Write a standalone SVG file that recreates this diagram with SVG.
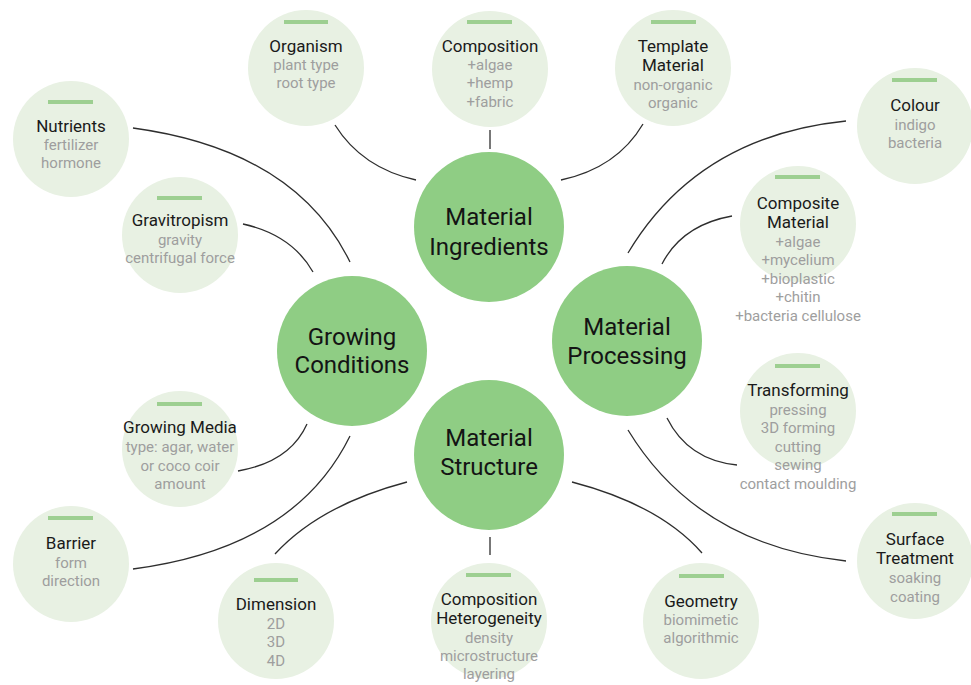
<svg xmlns="http://www.w3.org/2000/svg" width="971" height="685" viewBox="0 0 971 685">
<style>
.main{fill:#8fcd84}
.sub{fill:#e8f1e3}
.bar{stroke:#9dcf91;stroke-width:4}
.mt{font-family:Roboto,"Liberation Sans",sans-serif;font-size:24px;fill:#141414;text-anchor:middle}
.t{font-family:Roboto,"Liberation Sans",sans-serif;font-size:17px;fill:#1a1a1a;text-anchor:middle}
.s{font-family:Roboto,"Liberation Sans",sans-serif;font-size:15px;fill:#9e9e9e;text-anchor:middle}
.c{fill:none;stroke:#2e2e2e;stroke-width:1.3}
</style>
<rect width="971" height="685" fill="#ffffff"/>
<g id="connectors">
<path class="c" d="M335,125 Q362,168 416,180"/>
<path class="c" d="M490,130 L490,149"/>
<path class="c" d="M643,124 Q617,168 561,180"/>
<path class="c" d="M133,128 Q295,150 350,262"/>
<path class="c" d="M243,224 Q292,235 313,272"/>
<path class="c" d="M238,471 Q290,462 307,424"/>
<path class="c" d="M133,569 Q295,548 350,436"/>
<path class="c" d="M275,554 Q320,505 407,482"/>
<path class="c" d="M490,537 L490,555"/>
<path class="c" d="M572,482 Q660,505 702,553"/>
<path class="c" d="M846,121 Q698,136 628,253"/>
<path class="c" d="M732,216 Q682,225 662,264"/>
<path class="c" d="M667,418 Q688,460 737,465"/>
<path class="c" d="M628,430 Q698,545 846,561"/>
</g>
<g id="material-ingredients"><circle class="main" cx="489" cy="227" r="75"/><text class="mt" x="489" y="225">Material</text><text class="mt" x="489" y="255">Ingredients</text></g>
<g id="growing-conditions"><circle class="main" cx="352" cy="351" r="75"/><text class="mt" x="352" y="345">Growing</text><text class="mt" x="352" y="373">Conditions</text></g>
<g id="material-processing"><circle class="main" cx="627" cy="341" r="75"/><text class="mt" x="627" y="335">Material</text><text class="mt" x="627" y="364">Processing</text></g>
<g id="material-structure"><circle class="main" cx="489" cy="455" r="75"/><text class="mt" x="489" y="446">Material</text><text class="mt" x="489" y="475">Structure</text></g>

<g id="organism"><circle class="sub" cx="306" cy="68" r="58"/><line class="bar" x1="284" y1="22" x2="328" y2="22"/><text class="t" x="306" y="52">Organism</text><text class="s" x="306" y="70">plant type</text><text class="s" x="306" y="88">root type</text></g>
<g id="composition"><circle class="sub" cx="490" cy="69" r="58"/><line class="bar" x1="467" y1="22" x2="512" y2="22"/><text class="t" x="490" y="52">Composition</text><text class="s" x="490" y="70">+algae</text><text class="s" x="490" y="88">+hemp</text><text class="s" x="490" y="107">+fabric</text></g>
<g id="template-material"><circle class="sub" cx="673" cy="68" r="58"/><line class="bar" x1="651" y1="22" x2="696" y2="22"/><text class="t" x="673" y="52">Template</text><text class="t" x="673" y="71">Material</text><text class="s" x="673" y="90">non-organic</text><text class="s" x="673" y="108">organic</text></g>
<g id="nutrients"><circle class="sub" cx="71" cy="139" r="58"/><line class="bar" x1="48" y1="102" x2="93" y2="102"/><text class="t" x="71" y="132">Nutrients</text><text class="s" x="71" y="150">fertilizer</text><text class="s" x="71" y="168">hormone</text></g>
<g id="gravitropism"><circle class="sub" cx="180" cy="235" r="58"/><line class="bar" x1="157" y1="198" x2="202" y2="198"/><text class="t" x="180" y="226">Gravitropism</text><text class="s" x="180" y="245">gravity</text><text class="s" x="180" y="263">centrifugal force</text></g>
<g id="colour"><circle class="sub" cx="915" cy="126" r="58"/><line class="bar" x1="892" y1="80" x2="937" y2="80"/><text class="t" x="915" y="111">Colour</text><text class="s" x="915" y="130">indigo</text><text class="s" x="915" y="148">bacteria</text></g>
<g id="composite-material"><circle class="sub" cx="798" cy="224" r="58"/><line class="bar" x1="775" y1="177" x2="820" y2="177"/><text class="t" x="798" y="209">Composite</text><text class="t" x="798" y="228">Material</text><text class="s" x="798" y="247">+algae</text><text class="s" x="798" y="265">+mycelium</text><text class="s" x="798" y="284">+bioplastic</text><text class="s" x="798" y="302">+chitin</text><text class="s" x="798" y="321">+bacteria cellulose</text></g>
<g id="transforming"><circle class="sub" cx="798" cy="411" r="58"/><line class="bar" x1="775" y1="366" x2="820" y2="366"/><text class="t" x="798" y="396">Transforming</text><text class="s" x="798" y="415">pressing</text><text class="s" x="798" y="433">3D forming</text><text class="s" x="798" y="452">cutting</text><text class="s" x="798" y="470">sewing</text><text class="s" x="798" y="489">contact moulding</text></g>
<g id="surface-treatment"><circle class="sub" cx="915" cy="561" r="58"/><line class="bar" x1="892" y1="514" x2="937" y2="514"/><text class="t" x="915" y="545">Surface</text><text class="t" x="915" y="564">Treatment</text><text class="s" x="915" y="583">soaking</text><text class="s" x="915" y="602">coating</text></g>
<g id="geometry"><circle class="sub" cx="701" cy="621" r="58"/><line class="bar" x1="679" y1="576" x2="724" y2="576"/><text class="t" x="701" y="607">Geometry</text><text class="s" x="701" y="625">biomimetic</text><text class="s" x="701" y="643">algorithmic</text></g>
<g id="growing-media"><circle class="sub" cx="180" cy="449" r="58"/><line class="bar" x1="157" y1="404" x2="202" y2="404"/><text class="t" x="180" y="433">Growing Media</text><text class="s" x="180" y="452">type: agar, water</text><text class="s" x="180" y="471">or coco coir</text><text class="s" x="180" y="489">amount</text></g>
<g id="barrier"><circle class="sub" cx="71" cy="564" r="58"/><line class="bar" x1="48" y1="518" x2="93" y2="518"/><text class="t" x="71" y="549">Barrier</text><text class="s" x="71" y="568">form</text><text class="s" x="71" y="586">direction</text></g>
<g id="dimension"><circle class="sub" cx="276" cy="621" r="58"/><line class="bar" x1="254" y1="580" x2="298" y2="580"/><text class="t" x="276" y="610">Dimension</text><text class="s" x="276" y="629">2D</text><text class="s" x="276" y="647">3D</text><text class="s" x="276" y="666">4D</text></g>
<g id="composition-heterogeneity"><circle class="sub" cx="489" cy="621" r="58"/><line class="bar" x1="466" y1="575" x2="511" y2="575"/><text class="t" x="489" y="605">Composition</text><text class="t" x="489" y="624">Heterogeneity</text><text class="s" x="489" y="643">density</text><text class="s" x="489" y="661">microstructure</text><text class="s" x="489" y="679">layering</text></g>
</svg>
